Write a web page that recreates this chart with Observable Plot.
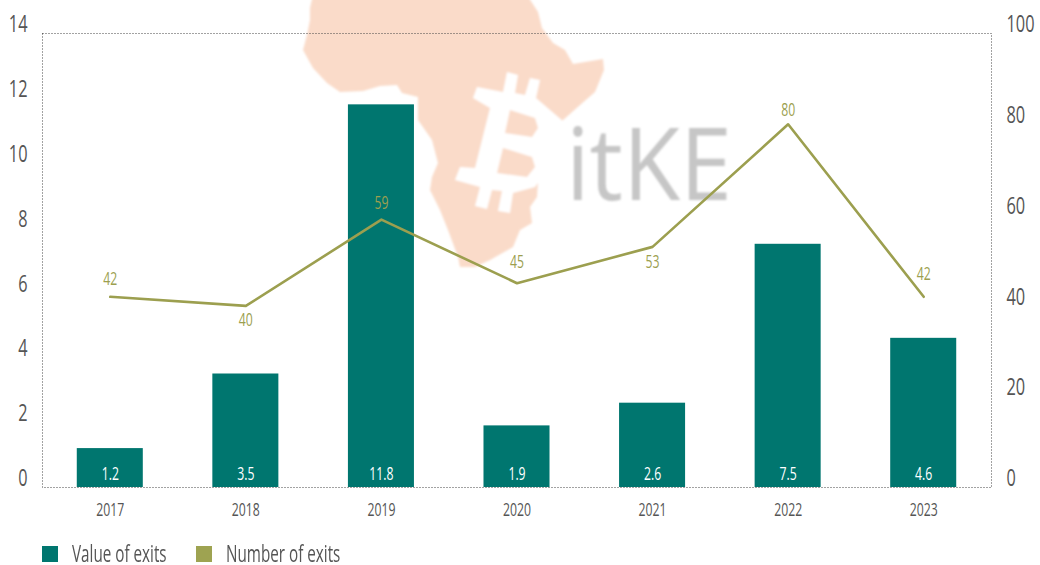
<!DOCTYPE html>
<html><head><meta charset="utf-8">
<script src="https://cdn.jsdelivr.net/npm/d3@7"></script>
<script src="https://cdn.jsdelivr.net/npm/@observablehq/plot@0.6"></script>
<style>
html,body{margin:0;padding:0;background:#fff}
#wrap{position:relative;width:1040px;height:565px;font-family:"Open Sans",sans-serif}
#logo{position:absolute;left:0;top:0}
#chart{position:absolute;left:0;top:0}
#chart svg{background:transparent;display:block}
.legend{position:absolute;top:538px;left:0;width:100%;height:27px;font-size:24px;line-height:24px;color:#555}
.legend i{position:absolute;top:8px;width:16px;height:16px}
.legend span{position:absolute;top:3px;white-space:nowrap;transform-origin:left center;transform:scaleX(.635)}
</style></head><body>
<div id="wrap">
<svg id="logo" width="1040" height="565" viewBox="0 0 1040 565">
  <defs><filter id="soft"><feGaussianBlur stdDeviation="0.8"/></filter></defs>
  <g filter="url(#soft)">
  <path fill="#fadbc9" d="M313 -5L527 -5L538 12L542 28L553 43L565 50L573 64L603 59L604 70L595 92L580 105L562 121L540 150L537 197L530 207L532 223L520 230L513 247L490 260L475 267L460 267L458 257L448 230L440 210L430 190L432 177L438 163L432 140L418 120L418 97L402 93L397 85L380 86L363 91L340 92L327 83L313 68L303 50L307 35L310 20L310 8Z"/>
  <path fill="#fff" d="M507 72L518 75L515 93L525 95L530 78L540 80L536 98L564 122L545 150L540 180L535 187L513 193L510 213L498 211L502 191L492 190L487 209L475 206L480 187L455 180L460 167L475 168L490 108L473 98L477 87L503 92Z"/>
  <path fill="#fadbc9" d="M510 110L535 118L538 128L532 137L505 133Z"/>
  <path fill="#fadbc9" d="M503 148L532 157L535 167L527 177L497 173Z"/>
  <text x="566" y="200" font-family="Open Sans" font-size="100" fill="#c6c6c6" textLength="166" lengthAdjust="spacingAndGlyphs">itKE</text>
  </g>
</svg>
<div id="chart"></div>
<div class="legend">
  <i style="left:42px;background:#00766f"></i><span style="left:72px">Value of exits</span>
  <i style="left:196px;background:#9ea351"></i><span style="left:226px">Number of exits</span>
</div>
</div>
<script>
const years = ["2017","2018","2019","2020","2021","2022","2023"];
const valueOfExits = [1.2,3.5,11.8,1.9,2.6,7.5,4.6];
const numberOfExits = [42,40,59,45,53,80,42];
const leftTicks = [0,2,4,6,8,10,12,14];
const rightTicks = [0,20,40,60,80,100];
const labelDy = [-18,14,-16,-21,15,-14,-23];
const yMax = 14, rMax = 100;
const toLeft = v => v * yMax / rMax;
const teal = "#00766f", olive = "#9c9f4f", grey = "#555";
const font = '"Open Sans",sans-serif';
const rows = years.map((year,i)=>({year,value:valueOfExits[i],count:numberOfExits[i]}));

const plot = Plot.plot({
  width:1040, height:530,
  marginLeft:42, marginRight:49, marginTop:33, marginBottom:43,
  style:{background:"transparent",fontFamily:font},
  x:{domain:years,paddingInner:0.513,paddingOuter:0.2565,round:false,label:null},
  y:{domain:[0,yMax],label:null},
  marks:[
    Plot.frame({stroke:"#444",strokeDasharray:"1,2",strokeWidth:1}),
    Plot.barY(rows,{x:"year",y:"value",fill:teal}),
    Plot.line(rows,{x:"year",y:d=>toLeft(d.count),stroke:olive,strokeWidth:2.6,curve:"linear"}),
    Plot.text(rows,{x:"year",y:0,text:d=>d.value.toFixed(1),fill:"#fff",fontSize:18,dy:-13}),
    ...rows.map((d,i)=>Plot.text([d],{x:"year",y:r=>toLeft(r.count),text:r=>String(r.count),fill:olive,fontSize:18,dy:labelDy[i]})),
    Plot.axisX({tickSize:0,tickPadding:16,fontSize:18,color:grey,label:null}),
    Plot.axisY({ticks:leftTicks,anchor:"left",tickSize:0,tickPadding:15,fontSize:24,color:grey,dy:-9,label:null}),
    Plot.axisY({ticks:rightTicks.map(toLeft),tickFormat:v=>String(Math.round(v*rMax/yMax)),anchor:"right",tickSize:0,tickPadding:15,fontSize:24,color:grey,dy:-9,label:null})
  ]
});
document.getElementById("chart").appendChild(plot);
// Condense the installed font to the reference's narrow face.
plot.querySelectorAll("text").forEach(t=>{
  t.setAttribute("textLength",(t.getComputedTextLength()*0.68).toFixed(1));
  t.setAttribute("lengthAdjust","spacingAndGlyphs");
});
</script>
</body></html>
